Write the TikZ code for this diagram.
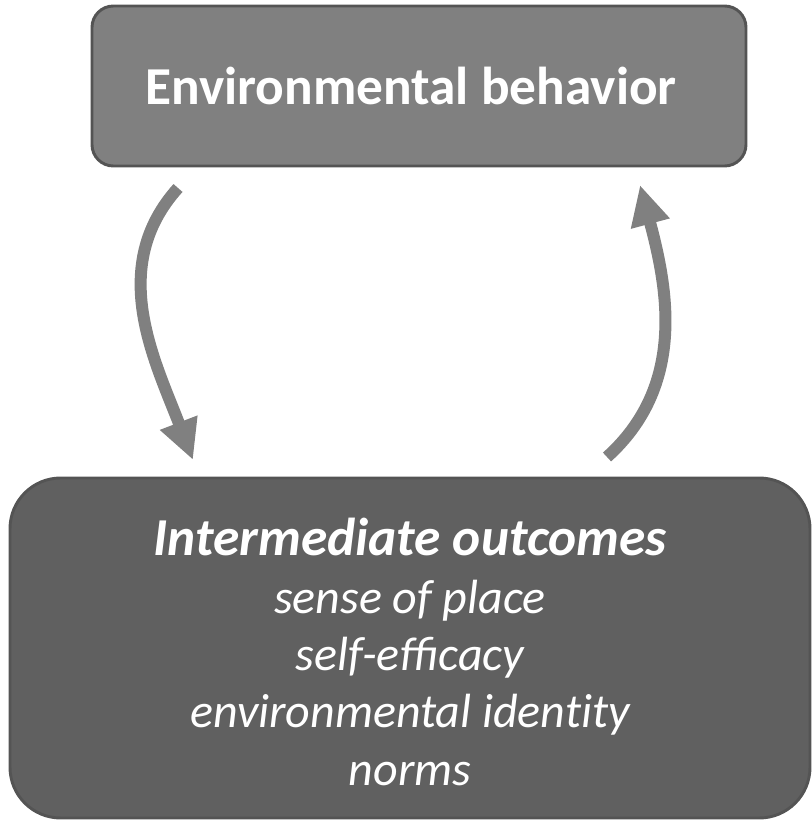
\documentclass[tikz,border=0pt]{standalone}
\usepackage{fontspec}
\setmainfont{Carlito}
\usepackage{xcolor}
\usepackage{tikz}
\usetikzlibrary{arrows.meta,positioning}

\definecolor{boxedge}{RGB}{84,84,84}
\definecolor{behfill}{RGB}{128,128,128}
\definecolor{outfill}{RGB}{96,96,96}
\definecolor{loopgray}{RGB}{128,128,128}

\begin{document}
\begin{tikzpicture}[
                x=0.75pt, y=0.75pt,
                behbox/.style={draw=boxedge, line width=2.2pt, rounded corners=16pt, fill=behfill, text=white,
                    align=center, minimum width=490.5pt, minimum height=120pt, font=\fontsize{40}{44}\selectfont\bfseries},
                outbox/.style={draw=boxedge, line width=2.2pt, rounded corners=38pt, fill=outfill, text=white,
                    align=center, minimum width=600pt, minimum height=255pt, font=\fontsize{36}{43}\selectfont\itshape},
                bus/.style={-{Triangle[length=30pt, width=28pt]}, line width=9pt, draw=loopgray}
            ]
            \useasboundingbox (0,0) rectangle (812,822);
            \node[behbox] (beh) at (419,736) {\hspace*{-12pt}Environmental behavior};
            \node[outbox] (out) at (410,174) {};
            \node[text=white, align=center, font=\fontsize{36}{43}\selectfont\itshape] (outtext) at (410,170)
                {{\fontsize{40}{43}\selectfont\bfseries Intermediate outcomes}\\sense of place\\self-efficacy\\
                 {\addfontfeatures{Ligatures=NoCommon}environmental identity}\\norms};
            % loose ends of the two feedback arrows
            \coordinate (down0) at (178,634);
            \coordinate (down1) at (193,362);
            \coordinate (up0) at (607,365);
            \coordinate (up1) at (640,637);
            \draw[bus] (down0) to[out=228, in=111] (down1);
            \draw[bus] (up0) to[out=42, in=-75] (up1);
        \end{tikzpicture}
\end{document}
